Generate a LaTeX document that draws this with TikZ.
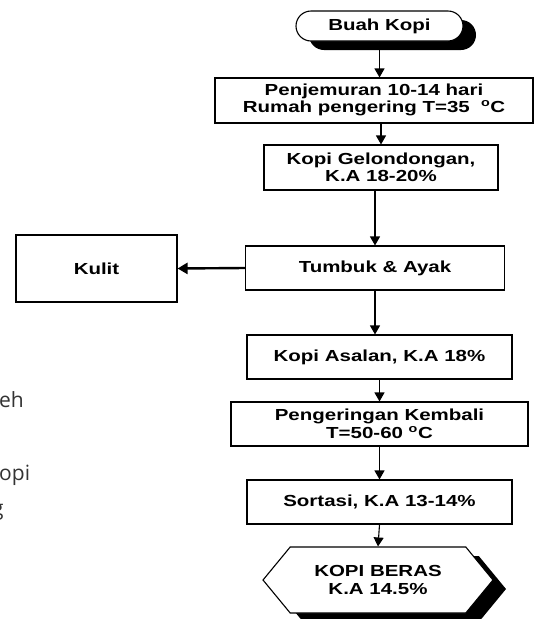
\documentclass[tikz,border=0pt]{standalone}
\usepackage{fontspec}
\setmainfont{Liberation Sans}
\newfontfamily\boxfont{Liberation Sans}[FakeStretch=1.28]
\newfontfamily\sidefont{Open Sans}
\usetikzlibrary{arrows.meta,shapes.symbols,shadows}
\definecolor{sidegray}{HTML}{333333}
\begin{document}
\begin{tikzpicture}[x=1pt,y=-1pt,
  every node/.style={font=\boxfont\bfseries\fontsize{16}{17.5}\selectfont, align=center, inner sep=0pt},
  stepbox/.style={draw, line width=1.1pt, fill=white, minimum width=#1, minimum height=44pt},
  conn/.style={line width=1.1pt, -{Triangle[width=10pt,length=9pt]}},
  thickconn/.style={line width=2.4pt, -{Triangle[width=11pt,length=10pt]}},
  blackshadow/.style={drop shadow={shadow xshift=13pt, shadow yshift=-9pt, fill=black, opacity=1}},
  sidetext/.style={font=\sidefont\fontsize{21}{25}\selectfont, text=sidegray, anchor=base west},
]
\useasboundingbox (0,0) rectangle (535,619);
\clip (0,0) rectangle (535,619);

\node[draw, line width=1.1pt, fill=white, rounded corners=15pt, minimum width=167pt, minimum height=30pt, blackshadow] (buah) at (379.5,26) {Buah Kopi};
\node[stepbox=318pt, minimum height=45pt] (penj) at (374,100.5) {\raisebox{5pt}{\begin{tabular}{@{}c@{}}Penjemuran 10-14 hari\\[-1pt] Rumah pengering T=35 \ \textsuperscript{o}C\end{tabular}}};
\node[stepbox=234pt, minimum height=45pt] (gel) at (381,167.5) {Kopi Gelondongan,\\K.A 18-20\%};
\node[stepbox=259pt] (tum) at (375,268) {Tumbuk \& Ayak};
\node[stepbox=161pt, minimum height=67pt] (kulit) at (96.5,268.5) {Kulit};
\node[stepbox=265pt] (asal) at (379.5,357) {Kopi Asalan, K.A 18\%};
\node[stepbox=297pt] (peng) at (379.5,424) {Pengeringan Kembali\\T=50-60 \textsuperscript{o}C};
\node[stepbox=265pt] (sort) at (379.5,502) {Sortasi, K.A 13-14\%};
\node[draw, line width=1.1pt, fill=white, signal, signal to=west and east, signal pointer angle=101, minimum width=230pt, minimum height=66pt, blackshadow] (beras) at (378,580) {KOPI BERAS\\K.A 14.5\%};

\draw[conn] (buah.south) -- (buah.south |- penj.north);
\draw[conn] (gel.north |- penj.south) -- (gel.north);
\draw[conn] (tum.north |- gel.south) -- (tum.north);
\draw[thickconn] (tum.west) -- (kulit.east);
\draw[conn] (tum.south) -- (tum.south |- asal.north);
\draw[conn] (asal.south) -- (peng.north);
\draw[conn] (peng.south) -- (sort.north);
\draw[conn] (sort.south) -- (beras.north);

\node[sidetext] (s1) at (-1,407) {eh};
\node[sidetext] (s2) at (-1,480) {opi};
\node[sidetext] (s3) at (-8,515) {g};
\end{tikzpicture}
\end{document}
